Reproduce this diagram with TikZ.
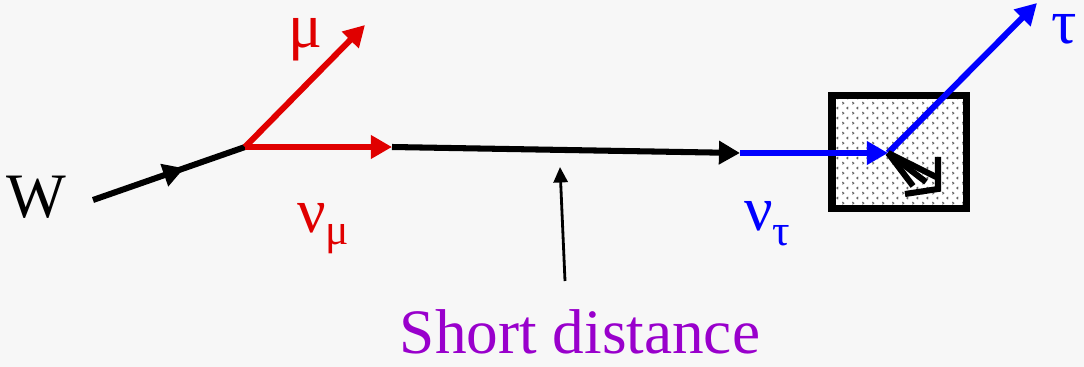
\documentclass[tikz,border=0pt]{standalone}
\usepackage{fontspec}
\setmainfont{Liberation Serif}
\usetikzlibrary{arrows.meta,patterns.meta,decorations.markings}
\definecolor{bggray}{RGB}{247,247,247}
\definecolor{lepred}{RGB}{224,0,0}
\definecolor{nublue}{RGB}{0,0,255}
\definecolor{notepurple}{RGB}{153,0,204}

%% sparse chevron fill of the detector block
\tikzdeclarepattern{
  name=chevdots, type=uncolored,
  bounding box={(0pt,0pt) and (7pt,7pt)},
  tile size={(7pt,7pt)},
  code={
    \draw[line width=0.7pt] (1.6pt,0.6pt) -- (0.6pt,1.4pt) -- (1.6pt,2.2pt);
    \draw[line width=0.7pt] (4.6pt,4.1pt) -- (5.6pt,4.9pt) -- (4.6pt,5.7pt);
  }}

\begin{document}
\begin{tikzpicture}[x=0.025cm, y=-0.025cm,
    big/.style={font=\fontsize{45}{48}\selectfont, inner sep=0pt},
    track/.style={line width=4.3pt},
    tip/.style={-{Triangle[length=15pt,width=16pt]}},
    midtip/.style={postaction={decorate},
      decoration={markings,mark=at position 0.6 with
        {\arrow{Triangle[length=15pt,width=16pt]}}}},
    detector/.style={draw, line width=5pt, pattern=chevdots,
      pattern color=black!60, minimum width=3.35cm, minimum height=2.82cm,
      inner sep=0pt}]
  %% background and frame
  \fill[bggray] (0,0) rectangle (1084,367);
  \useasboundingbox (0,0) rectangle (1084,367);

  %% detector block
  \fill[white] (831,95) rectangle (967,209);
  \node[detector] (det) at (899,152) {};

  %% vertices
  \coordinate (wstart) at (93,200);
  \coordinate (vtx) at (245,147);
  \coordinate (mutip) at (365,25);
  \coordinate (numutip) at (392,147);
  \coordinate (nutip) at (740,153);
  \coordinate (hit) at (888,153);
  \coordinate (tautip) at (1037,3);

  %% W decay
  \draw[track, midtip] (wstart) -- (vtx);
  \draw[track, lepred, tip] (vtx) -- (mutip);
  \draw[track, lepred, tip] (vtx) -- (numutip);

  %% flight and interaction
  \draw[track, tip] (numutip) -- (nutip);
  \draw[track, nublue, tip] (nutip) -- (hit);
  \draw[track, nublue, tip] (hit) -- (tautip);

  %% hadron shower
  \draw[track] (hit) -- (913,186);
  \draw[track] (hit) -- (926,182);
  \draw[track] (hit) -- (936,177);
  \draw[track, line join=miter] (938,157) -- (938,189) -- (905,194);

  %% labels
  \node[big] (wlab) at (36,197) {W};
  \node[big, lepred] (mulab) at (305,40) {μ};
  \node[big, lepred, anchor=base west] (numulab) at (297,232)
    {ν\raisebox{-9pt}{\fontsize{31}{33}\selectfont μ}};
  \node[big, nublue, anchor=base west] (nutaulab) at (744,230)
    {ν\raisebox{-11pt}{\fontsize{31}{33}\selectfont τ}};
  \node[big, nublue] (taulab) at (1064,29) {τ};

  %% note
  \node[big, notepurple, anchor=base] (note) at (580,353) {Short distance};
  \coordinate (notetip) at (560,167);
  \draw[line width=2pt, -{Triangle[length=11pt,width=10pt]}]
    (565,281) -- (notetip);
\end{tikzpicture}
\end{document}
